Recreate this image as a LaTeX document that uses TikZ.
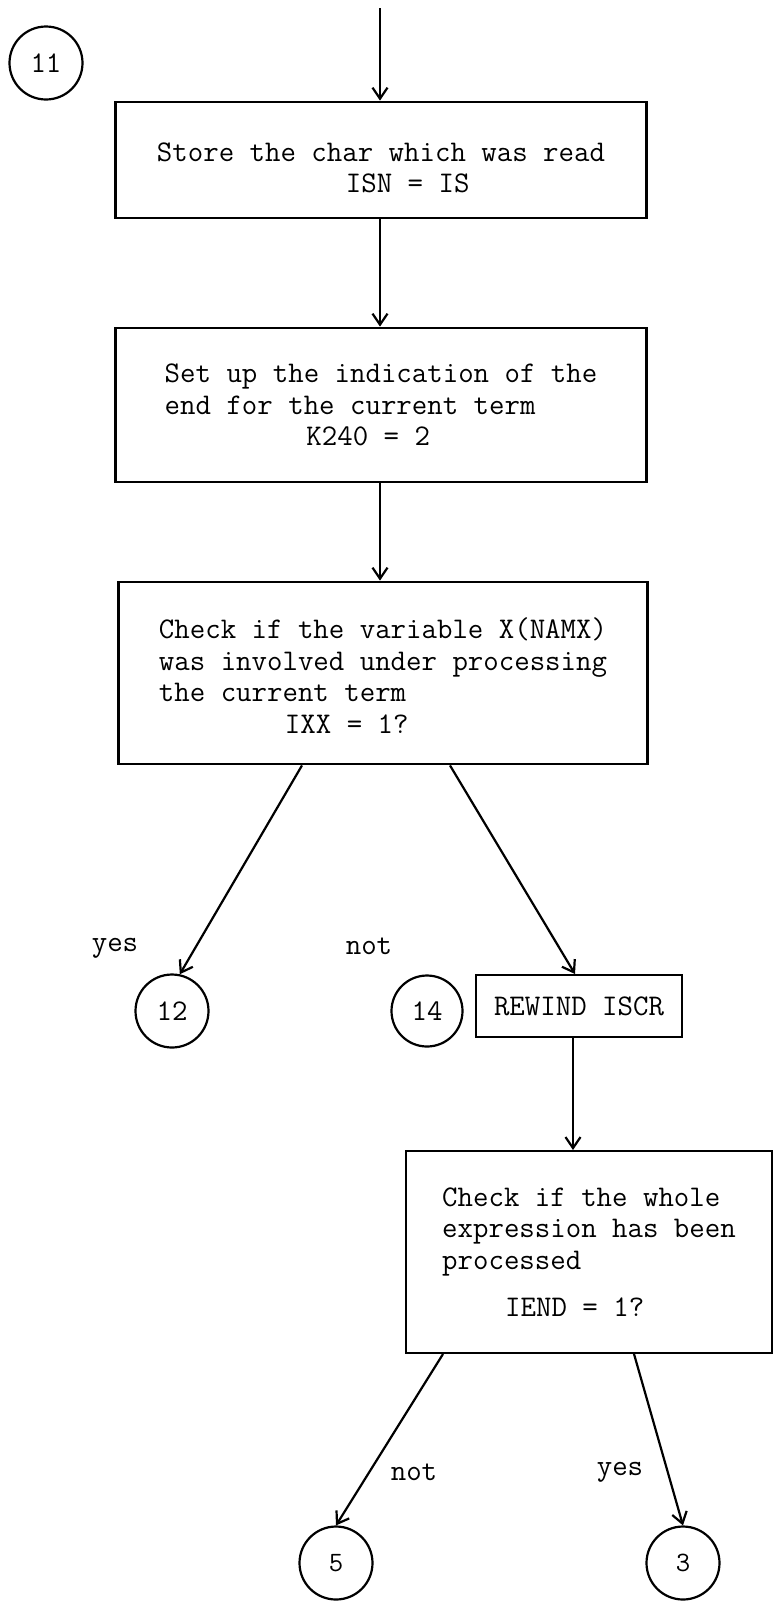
\documentclass[tikz,border=0pt]{standalone}
\usepackage{fontspec}
\usetikzlibrary{arrows.meta}
\begin{document}
\begin{tikzpicture}[x=1pt,y=-1pt,
  every node/.style={font=\ttfamily\fontsize{30}{31.5}\selectfont},
  boxthick/.style={draw, line width=2.8pt, align=left, inner sep=0pt},
  boxthin/.style={draw, line width=2pt, align=left, inner sep=0pt},
  conn/.style={circle, draw, line width=2.2pt, minimum size=73pt, inner sep=0pt},
  flow/.style={line width=2.2pt, -{Straight Barb[length=11pt,width=15pt,line width=2.2pt]}},
  lbl/.style={inner sep=0pt}]
\useasboundingbox (0,0) rectangle (776,1610);

\coordinate (top) at (380,8);
\node[conn] (c11) at (46,63) {11};

\node[boxthick, minimum width=531pt, minimum height=116pt] (b1) at (381,160)
  {\rule{0pt}{34pt}Store the char which was read\\\hspace*{6.3em}ISN = IS};
\node[boxthick, minimum width=531pt, minimum height=154pt] (b2) at (381,405)
  {Set up the indication of the\\end for the current term\\\hspace*{4.725em}K240 = 2};
\node[boxthick, minimum width=529pt, minimum height=182pt] (b3) at (383,673)
  {\rule{0pt}{26pt}Check if the variable X(NAMX)\\was involved under processing\\the current term\\\hspace*{4.2em}IXX = 1?};

\node[conn] (c12) at (172,1011) {12};
\node[conn, minimum size=71pt] (c14) at (427,1011) {14};
\node[boxthin, minimum width=206pt, minimum height=62pt] (rw) at (579,1006) {REWIND ISCR};

\node[boxthin, minimum width=366pt, minimum height=202pt] (b4) at (589,1252)
  {Check if the whole\\expression has been\\processed\\[16pt]\hspace*{2.1em}IEND = 1?};

\node[conn, font=\ttfamily\fontsize{28}{30}\selectfont] (c5) at (336,1563) {5};
\node[conn, font=\ttfamily\fontsize{28}{30}\selectfont] (c3) at (683,1563) {3};

\node[lbl] (ly1) at (115,948) {yes};
\node[lbl] (ln1) at (369,946) {not};
\node[lbl] (ln2) at (414,1472) {not};
\node[lbl] (ly2) at (620,1472) {yes};

\draw[flow] (top) -- (b1.north -| top);
\draw[flow] (b1.south -| top) -- (b2.north -| top);
\draw[flow] (b2.south -| top) -- (b3.north -| top);
\draw[flow] ([xshift=-81pt]b3.south) -- (c12.78);
\draw[flow] ([xshift=67pt]b3.south) -- ([xshift=-4pt]rw.north);
\coordinate (rwx) at ([xshift=-6pt]rw.south);
\draw[flow] (rwx) -- (rwx |- b4.north);
\draw[flow] ([xshift=-146pt]b4.south) -- (c5.north);
\draw[flow] ([xshift=45pt]b4.south) -- (c3.north);
\end{tikzpicture}
\end{document}
